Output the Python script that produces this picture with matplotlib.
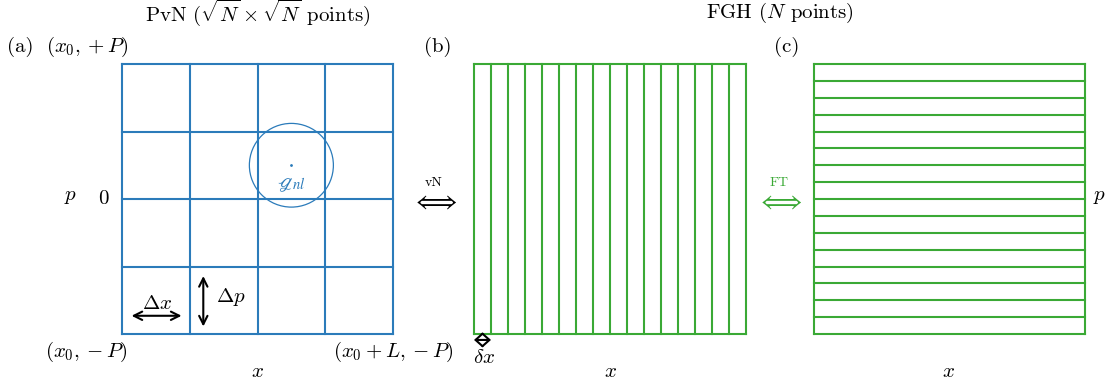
import numpy as np
import matplotlib
matplotlib.use('Agg')
import matplotlib.pyplot as plt
from matplotlib.patches import Circle

plt.rcParams['font.family'] = 'cmr10'
plt.rcParams['mathtext.fontset'] = 'cm'
plt.rcParams['axes.formatter.use_mathtext'] = True

# grid sizes
n_pvn = 4           # sqrt(N) cells per side for the PvN lattice
n_fgh = 16          # N columns / rows for the FGH grid
blue = '#2b7bba'
green = '#3aa935'

# Gaussian centre and width (in PvN cell units)
g_centre = (2.5, 0.5)
g_radius = 0.62

fig = plt.figure(figsize=(11.08, 3.85), dpi=100)
W, H = 1108, 385

def panel(left, right, top, bottom):
    return fig.add_axes([left / W, 1 - bottom / H, (right - left) / W, (bottom - top) / H])

ax_a = panel(122, 393, 64, 334)
ax_b = panel(474, 746, 64, 334)
ax_c = panel(814, 1085, 64, 334)

fs = 15
arr_kw = dict(ha='center', va='center', fontsize=19)

# (a) PvN lattice
ax_a.set_xlim(0, n_pvn)
ax_a.set_ylim(-n_pvn / 2, n_pvn / 2)
for xv in np.arange(n_pvn + 1):
    ax_a.axvline(xv, color=blue, lw=1.5, clip_on=False)
for pv in np.arange(n_pvn + 1) - n_pvn / 2:
    ax_a.axhline(pv, color=blue, lw=1.5, clip_on=False)
ax_a.add_patch(Circle(g_centre, g_radius, fill=False, ec=blue, lw=0.9))
ax_a.plot(*g_centre, '.', color=blue, ms=2)
ax_a.text(g_centre[0], g_centre[1] - 0.29, r'$\mathscr{g}_{nl}$', color=blue,
          fontsize=fs, ha='center', va='center', math_fontfamily='stix')
ax_a.annotate('', xy=(0.1, -1.73), xytext=(0.92, -1.73),
              arrowprops=dict(arrowstyle='<->', color='k', lw=1.5, mutation_scale=15))
ax_a.text(0.52, -1.55, r'$\Delta x$', fontsize=fs, ha='center', va='center')
ax_a.annotate('', xy=(1.2, -1.1), xytext=(1.2, -1.93),
              arrowprops=dict(arrowstyle='<->', color='k', lw=1.5, mutation_scale=15))
ax_a.text(1.6, -1.45, r'$\Delta p$', fontsize=fs, ha='center', va='center')

T = ax_a.transAxes
ax_a.text(-0.376, 1.063, '(a)', transform=T, fontsize=fs, ha='center', va='center')
ax_a.text(-0.129, 1.063, r'$(x_0, +P)$', transform=T, fontsize=fs, ha='center', va='center')
ax_a.text(-0.19, 0.507, r'$p$', transform=T, fontsize=fs, ha='center', va='center')
ax_a.text(-0.066, 0.5, r'$0$', transform=T, fontsize=fs, ha='center', va='center')
ax_a.text(-0.13, -0.067, r'$(x_0, -P)$', transform=T, fontsize=fs, ha='center', va='center')
ax_a.text(1.0, -0.067, r'$(x_0 + L, -P)$', transform=T, fontsize=fs, ha='center', va='center')
ax_a.text(0.5, -0.14, r'$x$', transform=T, fontsize=fs, ha='center', va='center')
ax_a.text(1.151, 0.49, r'$\Longleftrightarrow$', transform=T, **arr_kw)
ax_a.text(1.151, 0.56, 'vN', transform=T, fontsize=10, ha='center', va='center')

# (b) FGH grid in x
ax_b.set_xlim(0, n_fgh)
ax_b.set_ylim(0, 1)
for xv in np.arange(n_fgh + 1):
    ax_b.axvline(xv, color=green, lw=1.5, clip_on=False)
for yv in (0, 1):
    ax_b.axhline(yv, color=green, lw=1.5, clip_on=False)
ax_b.annotate('', xy=(0.0, -0.022), xytext=(1.0, -0.022), annotation_clip=False,
              arrowprops=dict(arrowstyle='<->, head_length=0.5, head_width=0.45',
                              color='k', lw=1.5, mutation_scale=10, shrinkA=0, shrinkB=0))
T = ax_b.transAxes
ax_b.text(-0.132, 1.063, '(b)', transform=T, fontsize=fs, ha='center', va='center')
ax_b.text(0.037, -0.09, r'$\delta x$', transform=T, fontsize=fs, ha='center', va='center')
ax_b.text(0.5, -0.14, r'$x$', transform=T, fontsize=fs, ha='center', va='center')
ax_b.text(1.121, 0.49, r'$\Longleftrightarrow$', transform=T, color=green, **arr_kw)
ax_b.text(1.121, 0.56, 'FT', transform=T, fontsize=10, ha='center', va='center', color=green)

# (c) FGH grid in p
ax_c.set_xlim(0, 1)
ax_c.set_ylim(0, n_fgh)
for yv in np.arange(n_fgh + 1):
    ax_c.axhline(yv, color=green, lw=1.5, clip_on=False)
for xv in (0, 1):
    ax_c.axvline(xv, color=green, lw=1.5, clip_on=False)
T = ax_c.transAxes
ax_c.text(-0.1, 1.063, '(c)', transform=T, fontsize=fs, ha='center', va='center')
ax_c.text(0.495, -0.14, r'$x$', transform=T, fontsize=fs, ha='center', va='center')
ax_c.text(1.055, 0.507, r'$p$', transform=T, fontsize=fs, ha='center', va='center')

for ax in (ax_a, ax_b, ax_c):
    ax.axis('off')

fig.text(258 / W, 1 - 13 / H, r'PvN ($\sqrt{N} \times \sqrt{N}$ points)', fontsize=fs,
         ha='center', va='center')
fig.text(780 / W, 1 - 13 / H, r'FGH ($N$ points)', fontsize=fs, ha='center', va='center')

fig.savefig('out.png', dpi=100)
